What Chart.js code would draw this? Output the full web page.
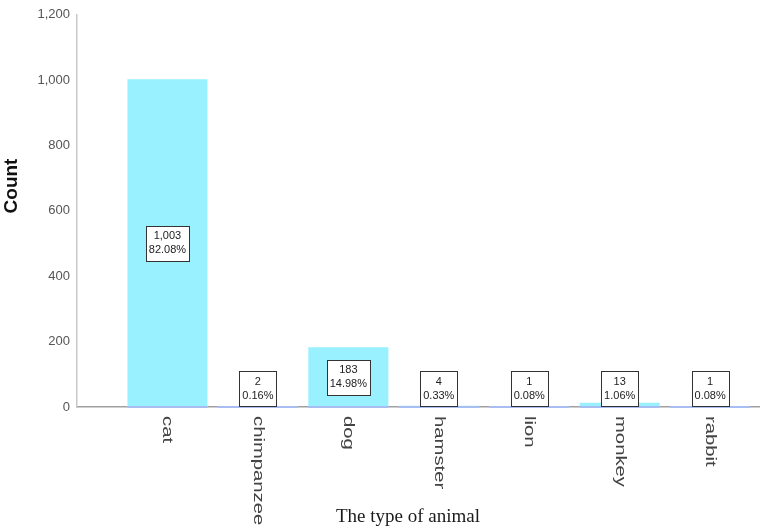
<!DOCTYPE html>
<html>
<head>
<meta charset="utf-8">
<script src="https://cdn.jsdelivr.net/npm/chart.js@4.4.1/dist/chart.umd.min.js"></script>
<style>
  html, body { margin: 0; padding: 0; background: #ffffff; }
  #wrap { width: 767px; height: 530px; position: relative; }
</style>
</head>
<body>
<div id="wrap"><canvas id="c" width="767" height="530"></canvas></div>
<script>
const categories = ['cat', 'chimpanzee', 'dog', 'hamster', 'lion', 'monkey', 'rabbit'];
const counts = [1003, 2, 183, 4, 1, 13, 1];
const percentLabels = ['82.08%', '0.16%', '14.98%', '0.33%', '0.08%', '1.06%', '0.08%'];
const yTicks = [0, 200, 400, 600, 800, 1000, 1200];
const yTitle = 'Count';
const xTitle = 'The type of animal';

const points = categories.map((c, i) => ({ x: i + 1, y: counts[i] }));

const fmt = new Intl.NumberFormat('en-US');

const decorPlugin = {
  id: 'decor',
  afterDatasetsDraw(chart) {
    const ctx = chart.ctx;
    const meta = chart.getDatasetMeta(0);
    const xs = chart.scales.x;
    // bluish underline under each bar
    ctx.save();
    meta.data.forEach((bar) => {
      const w = bar.width;
      ctx.strokeStyle = '#a8bdf2';
      ctx.lineWidth = 2;
      ctx.beginPath();
      ctx.moveTo(bar.x - w / 2, bar.base);
      ctx.lineTo(bar.x + w / 2, bar.base);
      ctx.stroke();
    });
    ctx.restore();

    // value label boxes
    ctx.save();
    ctx.font = '11px "Liberation Sans", Arial, sans-serif';
    meta.data.forEach((bar, i) => {
      const l1 = fmt.format(counts[i]);
      const l2 = percentLabels[i];
      const tw = Math.max(ctx.measureText(l1).width, ctx.measureText(l2).width);
      const bw = Math.round(tw + 6);
      const bh = 35;
      let cy = (bar.y + bar.base) / 2;
      cy = Math.min(cy, bar.base - bh / 2 - 1);
      const bx = Math.round(bar.x - bw / 2) + 0.5;
      const by = Math.round(cy - bh / 2) + 0.5;
      ctx.fillStyle = '#ffffff';
      ctx.fillRect(bx, by, bw, bh);
      ctx.strokeStyle = '#333333';
      ctx.lineWidth = 1;
      ctx.strokeRect(bx, by, bw, bh);
      ctx.fillStyle = '#222222';
      ctx.textAlign = 'center';
      ctx.textBaseline = 'middle';
      ctx.fillText(l1, bar.x, cy - 7);
      ctx.fillText(l2, bar.x, cy + 7);
    });
    ctx.restore();

    // rotated category labels (clockwise)
    ctx.save();
    ctx.font = '15px "Liberation Sans", Arial, sans-serif';
    ctx.fillStyle = '#444444';
    categories.forEach((c, i) => {
      const px = xs.getPixelForValue(i + 1);
      ctx.save();
      ctx.translate(px, 416);
      ctx.rotate(Math.PI / 2);
      ctx.scale(1.35, 1);
      ctx.textAlign = 'left';
      ctx.textBaseline = 'middle';
      ctx.fillText(c, 0, 0);
      ctx.restore();
    });
    ctx.restore();

    // axis titles
    ctx.save();
    ctx.font = 'bold 19px "Liberation Sans", Arial, sans-serif';
    ctx.fillStyle = '#111111';
    ctx.translate(12, 186);
    ctx.rotate(-Math.PI / 2);
    ctx.textAlign = 'center';
    ctx.textBaseline = 'middle';
    ctx.fillText(yTitle, 0, 0);
    ctx.restore();

    ctx.save();
    ctx.font = '19px "Liberation Serif", "Times New Roman", serif';
    ctx.fillStyle = '#1a1a1a';
    ctx.textAlign = 'center';
    ctx.textBaseline = 'middle';
    ctx.fillText(xTitle, 408, 517);
    ctx.restore();
  }
};

new Chart(document.getElementById('c'), {
  type: 'bar',
  data: {
    datasets: [{
      data: points,
      backgroundColor: 'rgb(153, 240, 255)',
      borderWidth: 0,
      barPercentage: 0.885,
      categoryPercentage: 1.0
    }]
  },
  options: {
    responsive: false,
    animation: false,
    devicePixelRatio: 1,
    layout: { padding: { top: 12, right: 8, left: 0, bottom: 0 } },
    plugins: {
      legend: { display: false },
      tooltip: { enabled: false },
      title: { display: false }
    },
    scales: {
      x: {
        type: 'linear',
        min: 0,
        max: 7.54,
        offset: false,
        afterBuildTicks(scale) { scale.ticks = categories.map((c, i) => ({ value: i + 1 })); },
        grid: { display: false, drawTicks: false },
        border: { display: true, color: '#a0a0a0', width: 1.5 },
        ticks: { display: false },
        afterFit(scale) { scale.height = 123; }
      },
      y: {
        min: 0,
        max: 1200,
        afterBuildTicks(scale) { scale.ticks = yTicks.map(v => ({ value: v })); },
        grid: { display: false, drawTicks: false },
        border: { display: true, color: '#c8c8c8', width: 1.5 },
        ticks: {
          color: '#555555',
          padding: 7,
          font: { family: '"Liberation Sans", Arial, sans-serif', size: 13 },
          callback: (v) => fmt.format(v)
        },
        afterFit(scale) { scale.width = 77; }
      }
    }
  },
  plugins: [decorPlugin]
});
</script>
</body>
</html>
